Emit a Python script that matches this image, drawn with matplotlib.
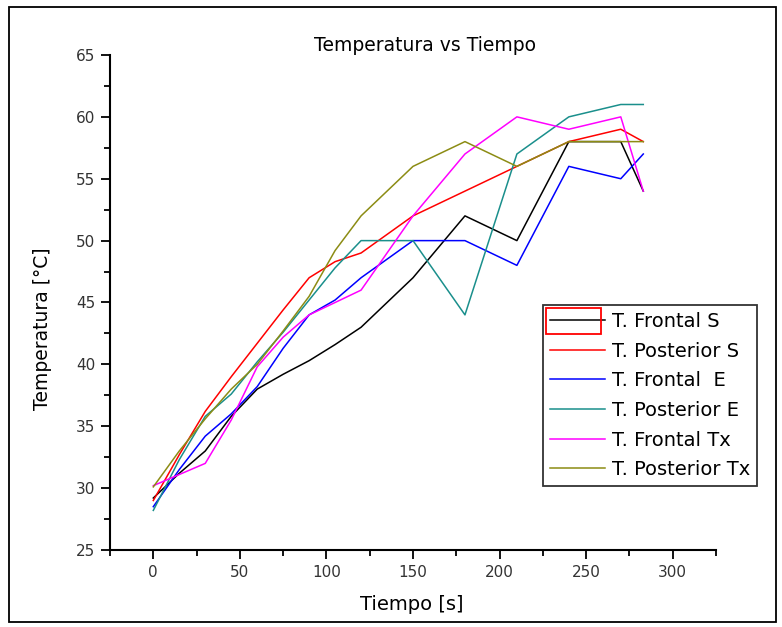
import matplotlib
matplotlib.use('Agg')
import matplotlib.pyplot as plt
from matplotlib.patches import Rectangle
from matplotlib.ticker import MultipleLocator

# tiempo [s]
tiempo = [0, 15, 30, 45, 60, 75, 90, 105, 120, 150, 180, 210, 240, 270, 283]

# temperaturas [°C]
frontal_s = [29.2, 31.2, 33.0, 35.8, 38.0, 39.2, 40.3, 41.6, 43.0, 47.0, 52.0, 50.0, 58.0, 58.0, 54.0]
posterior_s = [29.0, 32.7, 36.2, 39.0, 41.7, 44.4, 47.0, 48.3, 49.0, 52.0, 54.0, 56.0, 58.0, 59.0, 58.0]
frontal_e = [28.5, 31.5, 34.2, 36.0, 38.2, 41.3, 44.0, 45.2, 47.0, 50.0, 50.0, 48.0, 56.0, 55.0, 57.0]
posterior_e = [28.2, 32.3, 35.8, 37.6, 40.2, 42.6, 45.2, 47.8, 50.0, 50.0, 44.0, 57.0, 60.0, 61.0, 61.0]
frontal_tx = [30.2, 31.1, 32.0, 35.5, 39.8, 42.2, 44.0, 45.0, 46.0, 52.0, 57.0, 60.0, 59.0, 60.0, 54.0]
posterior_tx = [30.1, 33.0, 35.6, 38.0, 40.0, 42.7, 45.5, 49.2, 52.0, 56.0, 58.0, 56.0, 58.0, 58.0, 58.0]

etiquetas = ['T. Frontal S', 'T. Posterior S', 'T. Frontal  E',
             'T. Posterior E', 'T. Frontal Tx', 'T. Posterior Tx']
colores = ['black', 'red', 'blue', '#1a8f8c', 'magenta', '#8c8c14']
series = [frontal_s, posterior_s, frontal_e, posterior_e, frontal_tx, posterior_tx]

fig = plt.figure(figsize=(7.82, 6.27), dpi=100)
ax = fig.add_axes([0.1407, 0.1228, 0.7749, 0.7895])

for valores, color, etiqueta in zip(series, colores, etiquetas):
    ax.plot(tiempo, valores, color=color, lw=1.1, label=etiqueta)

ax.set_xlim(-25, 325)
ax.set_ylim(25, 65)
ax.xaxis.set_major_locator(MultipleLocator(50))
ax.xaxis.set_minor_locator(MultipleLocator(25))
ax.yaxis.set_major_locator(MultipleLocator(5))
ax.yaxis.set_minor_locator(MultipleLocator(2.5))
ax.set_xticks([0, 50, 100, 150, 200, 250, 300])

for lado in ['top', 'right']:
    ax.spines[lado].set_visible(False)
for lado in ['left', 'bottom']:
    ax.spines[lado].set_linewidth(1.5)

ax.tick_params(which='both', direction='out', width=1.3, labelsize=11,
               labelcolor='#333333')
ax.tick_params(which='major', length=6.5, pad=4)
ax.tick_params(which='minor', length=4)

ax.set_title('Temperatura vs Tiempo', fontsize=13.5, x=0.52, pad=-3)
ax.set_xlabel('Tiempo [s]', fontsize=14)
ax.set_ylabel('Temperatura [°C]', fontsize=13.5)
ax.xaxis.set_label_coords(0.498, -0.111)
ax.yaxis.set_label_coords(-0.112, 0.447)
ax.xaxis.label.set_va('center')
ax.yaxis.label.set_va('center')

leg = ax.legend(loc='upper left', bbox_to_anchor=(543 / 782, 1 - 305 / 627),
                bbox_transform=fig.transFigure, fontsize=14, frameon=True,
                fancybox=False, borderaxespad=0, handlelength=2.85,
                handletextpad=0.35, labelspacing=0.55, borderpad=0.35)
leg.get_frame().set_edgecolor('black')
leg.get_frame().set_linewidth(1.3)

# recuadro rojo alrededor de la primera muestra y borde de la figura
fig.patches.append(Rectangle((546 / 782, 1 - 334 / 627), 55 / 782, 26 / 627,
                             transform=fig.transFigure, fill=False,
                             edgecolor='red', lw=1.3, zorder=10))
fig.patches.append(Rectangle((9 / 782, 5 / 627), 767 / 782, 615 / 627,
                             transform=fig.transFigure, fill=False,
                             edgecolor='black', lw=1.3))

plt.savefig('out.png', dpi=100)
